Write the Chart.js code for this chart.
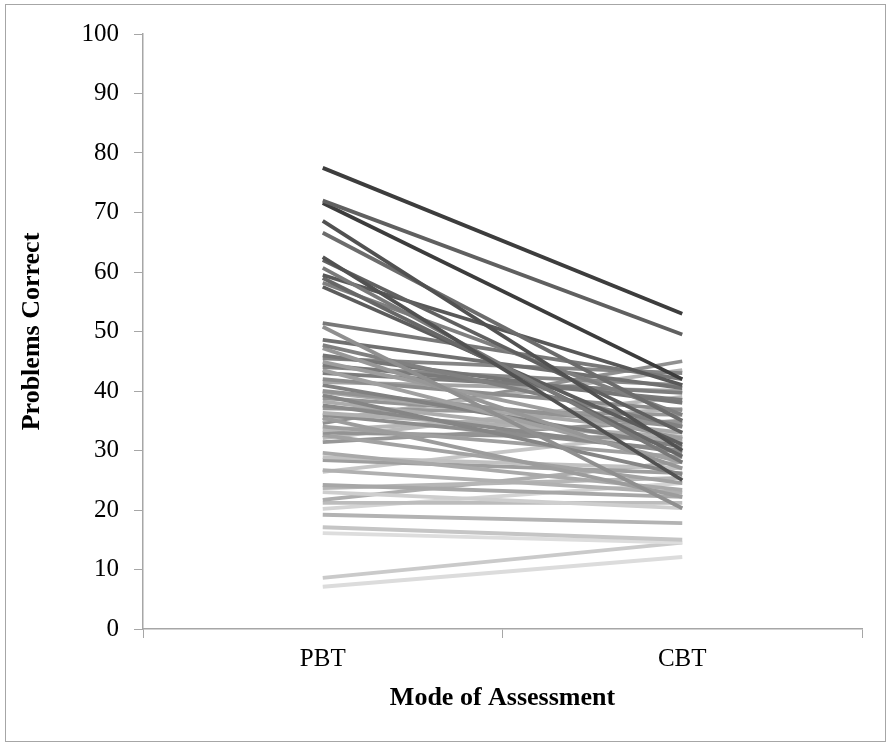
<!DOCTYPE html>
<html>
<head>
<meta charset="utf-8">
<script src="https://cdn.jsdelivr.net/npm/chart.js@4.4.1/dist/chart.umd.min.js"></script>
<style>
  html, body { margin: 0; padding: 0; background: #fff; }
  #wrap { position: relative; width: 889px; height: 745px; }
  #frame { position: absolute; left: 5px; top: 4px; width: 879px; height: 736px; border: 1px solid #a6a6a6; pointer-events: none; }
</style>
</head>
<body>
<div id="wrap">
  <canvas id="chart" width="889" height="745"></canvas>
  <div id="frame"></div>
</div>
<script>
// categories
const modes = ['PBT', 'CBT'];
// problems correct per student, paper-based then computer-based
const pbtScores = [
  77.5, 72, 71.6, 68.6, 66.6, 62.5, 62, 60.7, 59.5, 59, 58.2, 57.5,
  51.4, 50.8, 48.6, 47.7, 47.2, 46, 45.5, 44.9, 44.4, 44, 43.5, 43,
  42, 41.5, 41, 40, 39.8, 39.3, 38.8, 38.2, 37.6, 37.1, 36.3, 36,
  35.5, 35.1, 34.6, 34, 33.4, 33, 32.6, 32.1, 31.4, 29.6, 28.9, 28.4,
  26.7, 26.4, 24.2, 23.7, 23, 21.7, 21.2, 20.2, 19.2, 17.1, 16.1, 8.6, 7.1
];
const cbtScores = [
  53, 49.5, 42, 30, 35, 25, 33, 28, 41, 29, 36, 31,
  42, 20.3, 40.5, 34, 27, 38, 43, 32, 38.5, 41, 28, 39.7,
  36.8, 40, 30.6, 34, 33, 26, 34.6, 31.4, 29.7, 36, 32.3, 30,
  22.2, 43.5, 45, 28.9, 37, 32, 24.5, 39, 35, 23.4, 27, 26.2,
  22.9, 33.1, 22.2, 25.4, 20.3, 28.1, 21.2, 24.5, 17.8, 15, 14.5, 14.5, 12.1
];
const yTicks = [0, 10, 20, 30, 40, 50, 60, 70, 80, 90, 100];

// darker grey for higher paper scores, a little variation between neighbours
function shadeFor(v, i) {
  let g = 60 + (78 - v) / 71 * 160 + [0, 22, -14][i % 3];
  g = Math.max(55, Math.min(232, Math.round(g)));
  return `rgb(${g},${g},${g})`;
}

const datasets = pbtScores.map((p, i) => ({
  data: [p, cbtScores[i]],
  borderColor: shadeFor(p, i),
  borderWidth: 3.8,
  pointRadius: 0,
  tension: 0
}));

const axisGrey = '#a6a6a6';
const serif = "'Liberation Serif', 'Times New Roman', serif";

new Chart(document.getElementById('chart').getContext('2d'), {
  type: 'line',
  data: { labels: modes, datasets: datasets },
  options: {
    responsive: false,
    animation: false,
    layout: { padding: { left: 6, right: 27, top: 34, bottom: 0 } },
    plugins: { legend: { display: false }, tooltip: { enabled: false } },
    scales: {
      x: {
        offset: true,
        grid: { offset: true, drawOnChartArea: false, color: axisGrey, tickLength: 9 },
        border: { color: axisGrey, width: 1.5 },
        ticks: { color: '#000', font: { family: serif, size: 25 }, padding: 6 },
        title: {
          display: true, text: 'Mode of Assessment', color: '#000',
          font: { family: serif, size: 26, weight: 'bold' },
          padding: { top: 0, bottom: 31 }
        },
        afterFit: (s) => { s.height = 116; }
      },
      y: {
        min: 0, max: 100,
        afterBuildTicks: (s) => { s.ticks = yTicks.map(v => ({ value: v })); },
        grid: { drawOnChartArea: false, color: axisGrey, tickLength: 9 },
        border: { color: axisGrey, width: 1.5 },
        ticks: { color: '#000', font: { family: serif, size: 25 }, padding: 15 },
        title: {
          display: true, text: 'Problems Correct', color: '#000',
          font: { family: serif, size: 26, weight: 'bold' },
          padding: { top: 11, bottom: 0 }
        },
        afterFit: (s) => { s.width = 137; }
      }
    }
  }
});
</script>
</body>
</html>
